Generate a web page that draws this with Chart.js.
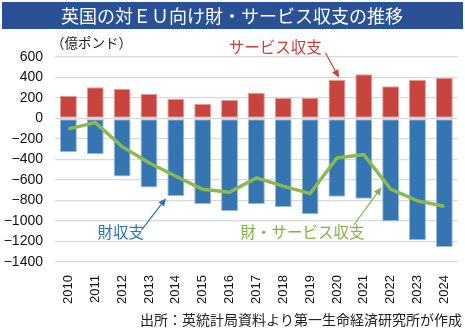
<!DOCTYPE html>
<html><head><meta charset="utf-8">
<script src="https://cdn.jsdelivr.net/npm/chart.js@4/dist/chart.umd.min.js"></script>
<style>html,body{margin:0;padding:0;background:#fff}#w{width:465px;height:334px;position:relative}</style>
</head><body><div id="w"><canvas id="c" width="465" height="334"></canvas></div>
<script>
const years = ['2010','2011','2012','2013','2014','2015','2016','2017','2018','2019','2020','2021','2022','2023','2024'];
const goods = [-327,-347,-566,-673,-757,-835,-903,-835,-864,-935,-764,-783,-1003,-1185,-1253];
const services = [223,304,291,240,191,143,181,252,201,201,379,432,314,379,395];
const total = [-102,-40,-274,-431,-564,-690,-720,-580,-660,-732,-385,-352,-688,-804,-856];
const yTicks = [600,400,200,0,-200,-400,-600,-800,-1000,-1200,-1400];
const titleText = '英国の対ＥＵ向け財・サービス収支の推移';
const unitText = '（億ポンド）';
const sourceText = '出所：英統計局資料より第一生命経済研究所が作成';
// annotations in data space: [categoryIndex, value]
const notes = [
  {text:'サービス収支', color:'#c8403a', at:[7.7,700], from:[9.57,641], to:[10.08,398]},
  {text:'財収支', color:'#2e72b4', at:[1.95,-1107], from:[2.72,-1088], to:[3.64,-777]},
  {text:'財・サービス収支', color:'#7fb347', at:[8.72,-1107], from:[10.63,-1039], to:[11.66,-670]}
];
const JP = '"Noto Sans CJK JP", sans-serif';

const deco = {
  id:'deco',
  afterDraw(chart){
    const ctx = chart.ctx, xs = chart.scales.x, ys = chart.scales.y;
    ctx.save();
    ctx.fillStyle = '#2a5195';
    ctx.fillRect(2,2,461,27);
    ctx.fillStyle = '#fff';
    ctx.font = '18px ' + JP;
    ctx.textAlign = 'center'; ctx.textBaseline = 'middle';
    ctx.fillText(titleText, 232, 16);
    ctx.fillStyle = '#222';
    ctx.font = '13.5px ' + JP;
    ctx.textAlign = 'left';
    ctx.fillText(unitText, 51, 43);
    ctx.font = '14px ' + JP;
    ctx.textAlign = 'right';
    ctx.fillText(sourceText, 462, 320);
    const px = (p)=>{
      const x0 = xs.getPixelForValue(0), x1 = xs.getPixelForValue(1);
      return [x0 + p[0]*(x1-x0), ys.getPixelForValue(p[1])];
    };
    notes.forEach(n=>{
      const a = px(n.at), f = px(n.from), t = px(n.to);
      ctx.fillStyle = n.color; ctx.strokeStyle = n.color;
      ctx.font = '15.5px ' + JP;
      ctx.textAlign = 'center'; ctx.textBaseline = 'middle';
      ctx.fillText(n.text, a[0], a[1]);
      const ang = Math.atan2(t[1]-f[1], t[0]-f[0]);
      const hl = 8, hw = 3.5;
      const bx = t[0] - hl*Math.cos(ang), by = t[1] - hl*Math.sin(ang);
      ctx.lineWidth = 1.2;
      ctx.beginPath(); ctx.moveTo(f[0],f[1]); ctx.lineTo(bx,by); ctx.stroke();
      ctx.beginPath();
      ctx.moveTo(t[0],t[1]);
      ctx.lineTo(bx + hw*Math.sin(ang), by - hw*Math.cos(ang));
      ctx.lineTo(bx - hw*Math.sin(ang), by + hw*Math.cos(ang));
      ctx.closePath(); ctx.fill();
    });
    ctx.restore();
  }
};

new Chart(document.getElementById('c'), {
  data:{
    labels: years,
    datasets:[
      {type:'line', label:'財・サービス収支', data: total, stack:'line', borderColor:'#8aba4f', borderWidth:3.4, pointRadius:0, tension:0, order:0},
      {type:'bar', label:'財収支', data: goods, stack:'bars', backgroundColor:'#3575b1', borderColor:'#9ab8da', borderWidth:1, borderSkipped:false, categoryPercentage:1, barPercentage:0.63, order:1},
      {type:'bar', label:'サービス収支', data: services, stack:'bars', backgroundColor:'#c8443e', borderColor:'#e39a96', borderWidth:1, borderSkipped:false, categoryPercentage:1, barPercentage:0.63, order:1}
    ]
  },
  options:{
    responsive:false, animation:false, devicePixelRatio:1,
    layout:{padding:{top:57,right:2,left:0,bottom:0}},
    plugins:{legend:{display:false}, tooltip:{enabled:false}},
    scales:{
      x:{stacked:true, grid:{display:false}, border:{display:false},
        ticks:{minRotation:90, maxRotation:90, padding:5, color:'#111', font:{family:'"Liberation Sans", Arial, sans-serif', size:13}},
        afterFit(s){ s.height = 72; }},
      y:{stacked:true, min:-1400, max:600,
        afterBuildTicks(s){ s.ticks = yTicks.map(v=>({value:v})); },
        grid:{color:'#d9d9d9', lineWidth:1.3, drawTicks:false}, border:{display:false},
        ticks:{padding:12, color:'#111', font:{family:'"Liberation Sans", Arial, sans-serif', size:14},
          callback:(v)=> String(v).replace('-','−')},
        afterFit(s){ s.width = 55; }}
    }
  },
  plugins:[deco]
});
</script></body></html>
